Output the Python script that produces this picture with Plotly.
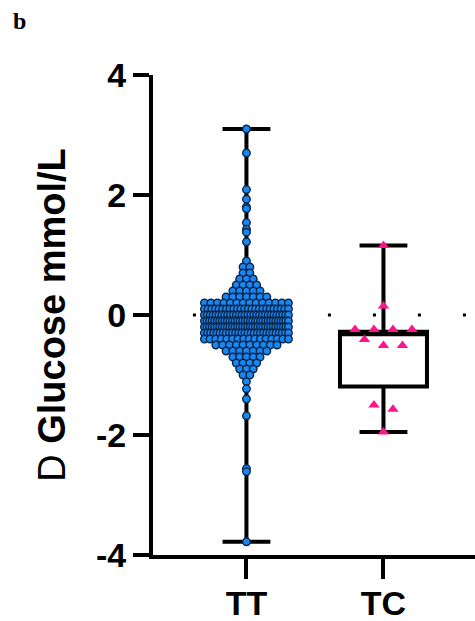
import plotly.graph_objects as go
import numpy as np

# ---------------- data ----------------
categories = ["TT", "TC"]
cat_pos = [0, 1]
y_tick_vals = [-4, -2, 0, 2, 4]
y_tick_text = ["-4", "-2", "0", "2", "4"]

# TT: sparse tail values read individually
tt_tail_values = [3.10, 2.70, 2.09, 1.93, 1.80, 1.77, 1.54, 1.43, 1.38, 1.22,
                  -1.11, -1.23, -1.40, -1.68, -2.56, -2.61, -3.78]
# TT: dense core as a frequency table (value, count)
tt_core_values = [0.9, 0.8, 0.7, 0.6, 0.5, 0.4, 0.3, 0.2, 0.1, 0.0,
                  -0.1, -0.2, -0.3, -0.4, -0.5, -0.6, -0.7, -0.8, -0.9, -1.0]
tt_core_counts = [1, 2, 2, 3, 4, 5, 7, 14, 24, 30,
                  34, 34, 28, 16, 10, 7, 5, 4, 3, 2]

# TC: individual values
tc_values = [1.16, 0.15, -0.24, -0.24, -0.24, -0.24, -0.41, -0.51, -0.51,
             -1.50, -1.57, -1.95]

# box statistics (min-max whiskers)
tt_box = dict(q1=-0.38, median=-0.15, q3=0.10, lowerfence=-3.78, upperfence=3.10)
tc_box = dict(q1=-1.19, median=-0.32, q3=-0.28, lowerfence=-1.95, upperfence=1.16)

# ---------------- layout helpers ----------------
PX_PER_X = 137.0  # pixel distance between category centres


def swarm(values, bin_w, bin_off, spacing_px, max_w_px):
    """Row-based beeswarm: bin values into rows, centre each row."""
    vals = np.asarray(values, dtype=float)
    bins = np.floor((vals - bin_off) / bin_w).astype(int)
    xs = np.zeros_like(vals)
    for b in np.unique(bins):
        idx = np.where(bins == b)[0]
        idx = idx[np.argsort(-vals[idx], kind="stable")]
        n = len(idx)
        if n == 1:
            continue
        sp = spacing_px
        if (n - 1) * sp > max_w_px:
            sp = max_w_px / (n - 1)
        offs = (np.arange(n) - (n - 1) / 2.0) * sp
        xs[idx] = offs / PX_PER_X
    return xs


tt_values = list(tt_tail_values)
for v, c in zip(tt_core_values, tt_core_counts):
    tt_values += [v] * c
tt_values = np.array(tt_values)

tt_x = cat_pos[0] + swarm(tt_values, 0.05, 0.025, 6.8, 84)
tc_x = cat_pos[1] + swarm(tc_values, 0.25, -0.35, 19.0, 84)

FONT = "Liberation Sans, Arial, sans-serif"

fig = go.Figure()

for pos, st in zip(cat_pos, [tt_box, tc_box]):
    fig.add_trace(go.Box(
        x=[pos], q1=[st["q1"]], median=[st["median"]], q3=[st["q3"]],
        lowerfence=[st["lowerfence"]], upperfence=[st["upperfence"]],
        width=0.635, whiskerwidth=0.55,
        line=dict(color="black", width=4), fillcolor="white",
        boxpoints=False, showlegend=False, hoverinfo="skip",
    ))

fig.add_trace(go.Scatter(
    x=tt_x, y=tt_values, mode="markers", showlegend=False,
    marker=dict(symbol="circle", size=7.5, color="#1a86f2",
                line=dict(color="#0b2748", width=1.4)),
))
fig.add_trace(go.Scatter(
    x=tc_x, y=tc_values, mode="markers", showlegend=False,
    marker=dict(symbol="triangle-up", size=10, color="#ff158a",
                line=dict(width=0)),
))

# dotted zero reference line
fig.add_shape(type="line", xref="paper", yref="y", x0=0.124, x1=1.0, y0=0, y1=0,
              line=dict(color="black", width=3, dash="3px,42px"), layer="below")

fig.add_annotation(text="<b>b</b>", xref="paper", yref="paper", x=-0.416, y=1.1125,
                   xanchor="center", yanchor="middle", showarrow=False,
                   font=dict(family="Liberation Serif, Times New Roman, serif",
                             size=24, color="black"))

fig.update_layout(
    width=475, height=621,
    margin=dict(l=153, r=0, t=75, b=66, autoexpand=False),
    paper_bgcolor="white", plot_bgcolor="white",
    boxmode="overlay",
    font=dict(family=FONT, color="black"),
    xaxis=dict(range=[-0.682, 1.668], tickvals=cat_pos, ticktext=categories,
               automargin=False, ticklabelstandoff=-5,
               showline=True, linewidth=4, linecolor="black",
               ticks="outside", ticklen=20, tickwidth=4, tickcolor="black",
               showgrid=False, zeroline=False,
               tickfont=dict(family=FONT, size=34, color="black", weight="bold")),
    yaxis=dict(range=[-4, 4], tickvals=y_tick_vals, ticktext=y_tick_text,
               automargin=False,
               showline=True, linewidth=4, linecolor="black",
               ticks="outside", ticklen=16, tickwidth=4, tickcolor="black",
               showgrid=False, zeroline=False,
               tickfont=dict(family=FONT, size=34, color="black", weight="bold"),
               title=dict(text="D <b>Glucose mmol/L</b>", standoff=20,
                          font=dict(family=FONT, size=38, color="black"))),
)

fig.write_html("out.html",
               config={"displayModeBar": False},
               post_script="document.body.style.margin='0px';"
                           "document.body.style.overflow='hidden';")
